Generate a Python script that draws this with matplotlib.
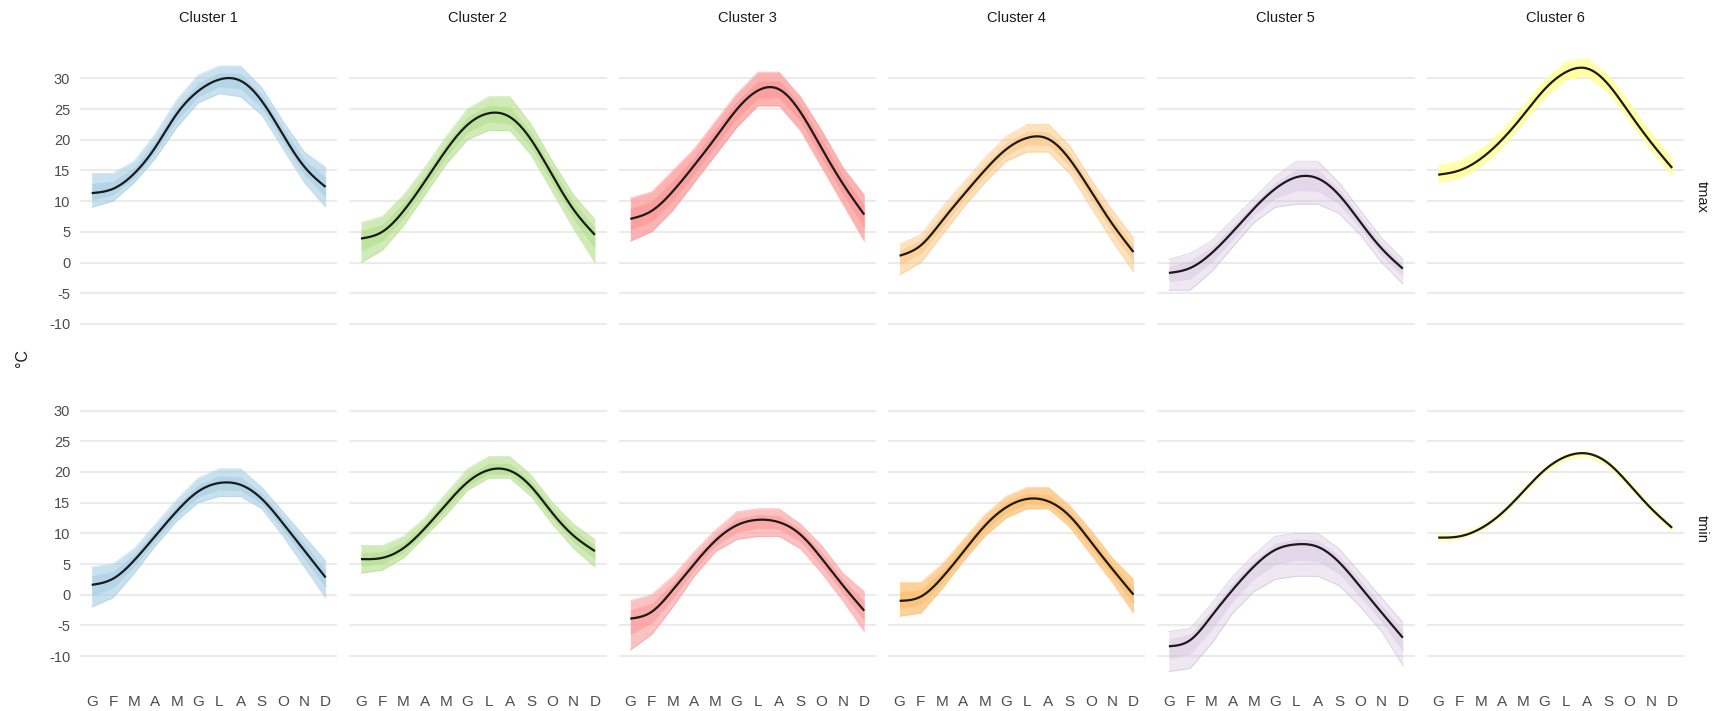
import numpy as np
import matplotlib.pyplot as plt

plt.rcParams['font.family'] = ['Liberation Sans', 'DejaVu Sans']

months = ['G', 'F', 'M', 'A', 'M', 'G', 'L', 'A', 'S', 'O', 'N', 'D']
clusters = ['Cluster 1', 'Cluster 2', 'Cluster 3', 'Cluster 4', 'Cluster 5', 'Cluster 6']
variables = ['tmax', 'tmin']
colors = ['#A6CEE3', '#B2DF8A', '#FB9A99', '#FDBF6F', '#CAB2D6', '#FFFF99']

# cluster mean per month (black curves)
tmax_mean = [
    [11.3, 12.0, 14.5, 18.8, 24.2, 27.9, 29.8, 29.6, 26.3, 20.8, 15.6, 12.3],
    [3.9, 5.0, 8.4, 13.2, 18.3, 22.4, 24.3, 23.7, 20.0, 14.2, 8.6, 4.5],
    [7.1, 8.4, 11.6, 15.8, 20.3, 24.9, 28.0, 28.2, 24.5, 18.6, 12.8, 7.8],
    [1.1, 2.8, 6.8, 11.0, 15.0, 18.4, 20.3, 20.1, 16.8, 11.6, 6.3, 1.7],
    [-1.7, -0.9, 1.5, 5.0, 8.8, 12.0, 13.9, 13.7, 11.0, 6.6, 2.3, -1.0],
    [14.3, 15.0, 16.9, 20.0, 24.0, 28.2, 31.0, 31.6, 29.0, 24.3, 19.6, 15.4],
]
tmin_mean = [
    [1.6, 2.6, 5.6, 9.6, 13.6, 16.8, 18.2, 17.9, 15.6, 11.6, 7.2, 2.8],
    [5.8, 6.0, 7.6, 10.8, 14.7, 18.3, 20.3, 20.2, 17.6, 13.3, 9.6, 7.1],
    [-3.9, -2.8, 0.8, 5.0, 8.8, 11.3, 12.2, 11.8, 9.8, 5.9, 1.5, -2.6],
    [-1.0, -0.3, 2.8, 7.0, 11.2, 14.2, 15.6, 15.2, 12.8, 8.6, 4.2, 0.0],
    [-8.4, -7.4, -3.5, 0.8, 4.6, 7.3, 8.2, 7.8, 5.3, 1.3, -2.9, -7.0],
    [9.3, 9.5, 10.8, 13.3, 16.8, 20.3, 22.5, 23.0, 21.4, 17.9, 14.1, 10.9],
]

# spread of the single stations (lowest / highest line per month)
tmax_lo = [
    [9.0, 10.0, 13.0, 17.0, 22.0, 26.0, 27.5, 27.0, 24.0, 18.5, 13.0, 9.0],
    [0.0, 2.0, 6.0, 11.0, 16.0, 20.0, 21.5, 21.5, 17.5, 11.5, 5.5, 0.0],
    [3.5, 5.0, 8.5, 13.0, 17.5, 22.0, 25.5, 25.5, 21.5, 15.5, 9.5, 3.5],
    [-2.0, 0.0, 4.5, 9.0, 13.0, 16.5, 18.0, 18.0, 14.5, 9.0, 3.5, -1.5],
    [-4.5, -4.5, -1.5, 2.5, 6.5, 9.0, 9.5, 9.5, 8.0, 4.5, 0.0, -3.5],
    [13.0, 13.7, 15.6, 18.7, 22.7, 26.9, 29.7, 30.3, 27.7, 23.0, 18.3, 14.1],
]
tmax_hi = [
    [14.5, 14.5, 16.5, 21.0, 26.5, 30.5, 32.0, 32.0, 28.5, 23.0, 18.0, 15.5],
    [6.5, 7.5, 11.0, 15.5, 20.5, 25.0, 27.0, 27.0, 22.5, 16.5, 11.0, 7.0],
    [10.5, 11.5, 15.0, 18.5, 23.0, 27.5, 31.0, 31.0, 27.0, 21.5, 15.5, 11.0],
    [3.0, 4.5, 9.0, 13.0, 17.0, 20.5, 22.5, 22.5, 19.0, 13.5, 8.5, 4.0],
    [0.5, 1.5, 3.5, 7.0, 10.5, 14.0, 16.5, 16.5, 13.0, 8.5, 4.0, 0.5],
    [15.9, 16.6, 18.5, 21.6, 25.6, 29.8, 32.8, 33.3, 30.6, 25.9, 21.2, 16.9],
]
tmin_lo = [
    [-2.0, -0.5, 3.5, 8.0, 12.0, 15.0, 16.0, 16.0, 14.0, 9.5, 4.5, -0.5],
    [3.5, 4.0, 6.0, 9.5, 13.0, 17.0, 19.0, 19.0, 16.0, 11.5, 7.5, 4.5],
    [-9.0, -6.5, -2.0, 3.0, 7.0, 9.0, 9.5, 9.5, 7.5, 3.5, -1.0, -6.0],
    [-3.5, -3.0, 1.0, 5.5, 9.5, 12.5, 14.0, 14.0, 11.0, 6.5, 2.0, -3.0],
    [-12.5, -12.0, -8.0, -3.0, 0.5, 2.5, 3.0, 3.0, 1.5, -2.0, -6.0, -11.5],
    [8.8, 9.0, 10.3, 12.8, 16.3, 19.8, 22.0, 22.5, 20.9, 17.4, 13.6, 10.4],
]
tmin_hi = [
    [4.5, 5.0, 7.5, 11.5, 15.5, 19.0, 20.5, 20.5, 17.5, 13.5, 9.5, 5.5],
    [8.0, 8.0, 9.5, 12.5, 16.5, 20.5, 22.5, 22.5, 19.5, 15.0, 11.5, 9.0],
    [-1.0, 0.0, 3.0, 7.0, 10.5, 13.5, 14.0, 14.0, 11.5, 8.0, 3.5, 0.5],
    [2.0, 2.0, 5.0, 9.0, 13.0, 16.0, 17.5, 17.5, 14.5, 10.5, 6.0, 2.5],
    [-6.0, -5.5, -1.5, 3.0, 6.5, 9.5, 10.0, 10.0, 7.5, 3.5, -0.5, -4.5],
    [9.8, 10.0, 11.3, 13.8, 17.3, 20.8, 23.0, 23.5, 21.9, 18.4, 14.6, 11.4],
]

# how dense the station lines look in each panel
tmax_alpha = [0.6, 0.6, 0.75, 0.45, 0.3, 0.8]
tmin_alpha = [0.6, 0.6, 0.6, 0.7, 0.3, 0.5]


def spline(y, n=200):
    # natural cubic spline through the monthly values, only for drawing
    y = np.asarray(y, float)
    k = len(y)
    A = np.zeros((k, k))
    b = np.zeros(k)
    A[0, 0] = A[-1, -1] = 1
    for i in range(1, k - 1):
        A[i, i - 1:i + 2] = [1, 4, 1]
        b[i] = 6 * (y[i + 1] - 2 * y[i] + y[i - 1])
    M = np.linalg.solve(A, b)
    xs = np.linspace(1, k, n)
    i = np.clip(np.floor(xs).astype(int) - 1, 0, k - 2)
    t = xs - (i + 1)
    ys = (M[i] * (1 - t) ** 3 / 6 + M[i + 1] * t ** 3 / 6
          + (y[i] - M[i] / 6) * (1 - t) + (y[i + 1] - M[i + 1] / 6) * t)
    return xs, ys


W, H = 1714, 711
fig = plt.figure(figsize=(W / 100, H / 100), dpi=100)
ylim = (-15, 36.5)
ppu = 6.14
ph = (ylim[1] - ylim[0]) * ppu
tops = [38.4, 370.6]
x = np.arange(1, 13)

data = {'tmax': (tmax_mean, tmax_lo, tmax_hi, tmax_alpha),
        'tmin': (tmin_mean, tmin_lo, tmin_hi, tmin_alpha)}

for r, var in enumerate(variables):
    mean, lo, hi, alpha = data[var]
    for c in range(6):
        left = 80 + 269.3 * c
        ax = fig.add_axes([left / W, 1 - (tops[r] + ph) / H, 257.3 / W, ph / H])
        lo_c, hi_c, m_c = np.array(lo[c]), np.array(hi[c]), np.array(mean[c])
        ax.fill_between(x, lo_c, hi_c, color=colors[c], alpha=alpha[c], lw=0)
        ax.fill_between(x, (lo_c + m_c) / 2, (hi_c + m_c) / 2, color=colors[c],
                        alpha=alpha[c], lw=0)
        ax.plot(x, lo_c, color=colors[c], lw=0.6, alpha=0.6)
        ax.plot(x, hi_c, color=colors[c], lw=0.6, alpha=0.6)
        xs, ys = spline(mean[c])
        ax.plot(xs, ys, color='#1a1a1a', lw=1.6, solid_capstyle='butt')

        ax.set_xlim(0.45, 12.55)
        ax.set_ylim(*ylim)
        ax.set_yticks(range(-10, 31, 5))
        ax.set_xticks(x)
        ax.grid(axis='y', color='#EBEBEB', lw=1.5)
        ax.set_axisbelow(True)
        for s in ax.spines.values():
            s.set_visible(False)
        ax.tick_params(length=0, labelsize=10.5, labelcolor='#4D4D4D')
        ax.tick_params(axis='y', pad=7)
        ax.tick_params(axis='x', pad=6, labelsize=11)
        if c == 0:
            ax.set_yticklabels([str(v) for v in range(-10, 31, 5)])
        else:
            ax.set_yticklabels([])
        if r == 1:
            ax.set_xticklabels(months)
        else:
            ax.set_xticklabels([])
        if r == 0:
            fig.text((left + 128.6) / W, 1 - 18 / H, clusters[c], ha='center', va='center',
                     fontsize=10.5, color='#1a1a1a')
        if c == 5:
            fig.text(1702 / W, 1 - (tops[r] + ph / 2) / H, var, rotation=-90,
                     ha='center', va='center', fontsize=10.5, color='#1a1a1a')

fig.text(23 / W, 1 - 358 / H, '°C', rotation=90, ha='center', va='center',
         fontsize=11.5, color='#1a1a1a')

fig.savefig('out.png', dpi=100)
